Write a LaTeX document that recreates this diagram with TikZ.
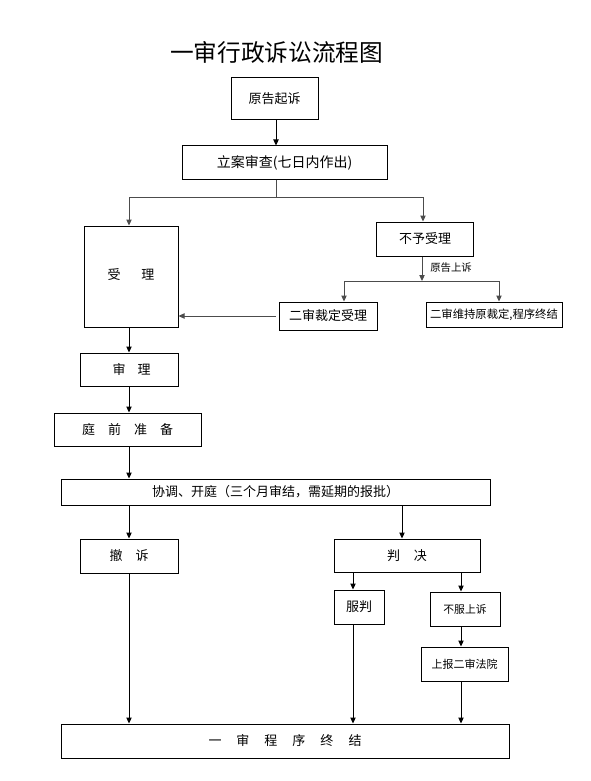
\documentclass[tikz,border=0pt]{standalone}
\usepackage{fontspec}
\setmainfont{Noto Sans CJK SC}
\newfontfamily\cjkfont{Noto Sans CJK SC}
\usetikzlibrary{arrows.meta}
\newcommand\fsN{\fontsize{9.75pt}{11pt}\selectfont}
\newcommand\fsS{\fontsize{8.25pt}{10pt}\selectfont}
\begin{document}
\begin{tikzpicture}[x=0.75pt,y=-0.75pt,
  box/.style={draw, line width=0.75pt, inner sep=0pt, font=\cjkfont\fsN},
  sz/.style 2 args={minimum width=#1*0.75pt, minimum height=#2*0.75pt},
  ln/.style={line width=0.75pt},
  gl/.style={line width=0.75pt, draw=black!70},
  arr/.style={line width=0.75pt, -{Triangle[length=4.5pt,width=4pt]}},
  garr/.style={arr, draw=black!70}]
\path[use as bounding box] (0,0) rectangle (590,781);

\node (title) at (276.5,52) {\cjkfont\fontsize{17.75pt}{20pt}\selectfont 一审行政诉讼流程图};

\node[box, sz={87}{42}] (yuangao) at (274.5,99) {原告起诉};
\node[box, sz={205}{33}, font=\cjkfont\fontsize{10.5pt}{12pt}\selectfont] (lian) at (284.5,162.5) {立案审查(七日内作出)};
\node[box, sz={94}{101}] (shouli) at (131,276.5) {\raisebox{4pt}{受\hspace{15.75pt}理}};
\node[box, sz={97}{34}] (buyu) at (425,239) {不予受理};
\node[box, sz={98}{28}] (ercai) at (328,316) {二审裁定受理};
\node[box, sz={136}{25}, font=\cjkfont\fontsize{8.5pt}{10pt}\selectfont] (erwei) at (494,314.5) {二审维持原裁定,程序终结};
\node[box, sz={98}{33}] (shenli) at (129,369.5) {\hspace{3.75pt}审\hspace{9pt}理};
\node[box, sz={147}{33}] (tingqian) at (127.5,429.5) {庭\hspace{9.75pt}前\hspace{9.75pt}准\hspace{9.75pt}备\hspace{11.25pt}};
\node[box, sz={429}{26}] (xietiao) at (275.5,492) {协调、开庭（三个月审结，需延期的报批）\hspace{6.75pt}};
\node[box, sz={98}{34}] (chesu) at (129,556) {撤\hspace{9.75pt}诉\hspace{10.5pt}};
\node[box, sz={146}{33}] (panjue) at (407,555.5) {判\hspace{10.5pt}决\hspace{12.75pt}};
\node[box, sz={50}{34}] (fupan) at (359,607) {服判\hspace{6pt}};
\node[box, sz={70}{34}, font=\cjkfont\fontsize{8.1pt}{10pt}\selectfont] (bufu) at (465,609) {不服上诉\hspace{5.25pt}};
\node[box, sz={87}{34}, font=\cjkfont\fsS] (shangbao) at (464.5,664) {上报二审法院\hspace{3pt}};
\node[box, sz={448}{34}] (zhongjie) at (285,741) {一\hspace{11.25pt}审\hspace{11.25pt}程\hspace{11.25pt}序\hspace{11.25pt}终\hspace{11.25pt}结\hspace{14.25pt}};

% axis coordinates
\coordinate (ax) at (276,0);
\coordinate (xl) at (129,0);
\coordinate (xr) at (423,0);
\coordinate (xb) at (422,0);
\coordinate (xc) at (344,0);
\coordinate (xw) at (499,0);
\coordinate (xp) at (402,0);
\coordinate (xf) at (353,0);
\coordinate (xs) at (461,0);
\coordinate (j1) at (276,197);
\coordinate (jl) at (129,197);
\coordinate (jr) at (423,197);
\coordinate (j2) at (422,281);
\coordinate (j2l) at (344,281);
\coordinate (j2r) at (499,281);

\draw[arr] (yuangao.south -| ax) -- (lian.north -| ax);
\draw[gl] (lian.south -| ax) -- (j1);
\draw[gl] (jl) -- (jr);
\draw[garr] (jl) -- (shouli.north -| xl);
\draw[garr] (jr) -- (buyu.north -| xr);
\draw[garr] (buyu.south -| xb) -- (j2);
\node[font=\cjkfont\fontsize{7.8pt}{9pt}\selectfont, anchor=west, inner sep=0pt] (shangsu) at (430,268) {原告上诉};
\draw[gl] (j2l) -- (j2r);
\draw[garr] (j2l) -- (ercai.north -| xc);
\draw[garr] (j2r) -- (erwei.north -| xw);
\draw[garr] ([xshift=-2.25pt]ercai.west) -- (ercai.west -| shouli.east);

\draw[arr] (shouli.south -| xl) -- (shenli.north -| xl);
\draw[arr] (shenli.south -| xl) -- (tingqian.north -| xl);
\draw[arr] (tingqian.south -| xl) -- (xietiao.north -| xl);
\draw[arr] (xietiao.south -| xl) -- (chesu.north -| xl);
\draw[arr] (xietiao.south -| xp) -- (panjue.north -| xp);
\draw[arr] (panjue.south -| xf) -- (fupan.north -| xf);
\draw[arr] (panjue.south -| xs) -- (bufu.north -| xs);
\draw[arr] (bufu.south -| xs) -- (shangbao.north -| xs);
\draw[arr] (chesu.south -| xl) -- (zhongjie.north -| xl);
\draw[arr] (fupan.south -| xf) -- (zhongjie.north -| xf);
\draw[arr] (shangbao.south -| xs) -- (zhongjie.north -| xs);
\end{tikzpicture}
\end{document}
